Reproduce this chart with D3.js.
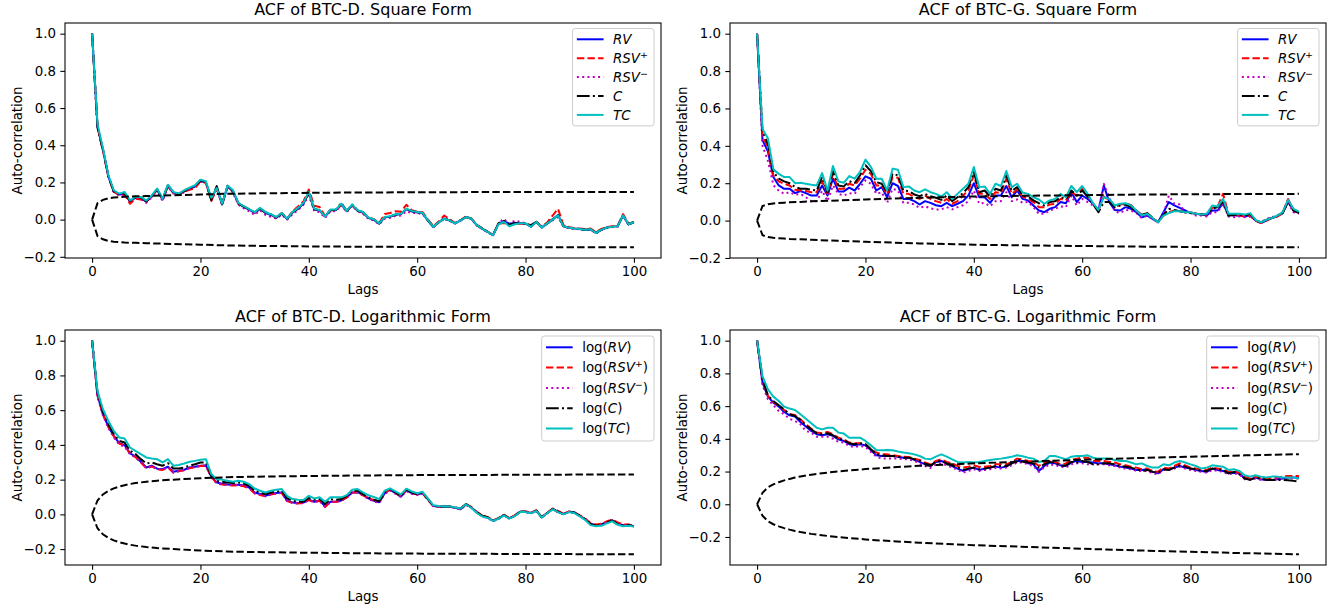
<!DOCTYPE html>
<html>
<head>
<meta charset="utf-8">
<title>ACF of BTC-D and BTC-G</title>
<script src="https://cdn.jsdelivr.net/npm/d3@7/dist/d3.min.js"></script>
<style>
  html, body { margin: 0; padding: 0; background: #fff; }
  svg { display: block; font-family: "DejaVu Sans", sans-serif; }
</style>
</head>
<body>
<svg id="chart" width="1333" height="611"></svg>
<script>

// lags on the x axis
var lags = d3.range(0, 101);
var xTicks = [0, 20, 40, 60, 80, 100];
var yTicks = [-0.2, 0.0, 0.2, 0.4, 0.6, 0.8, 1.0];

var titles = [
  "ACF of BTC-D. Square Form", "ACF of BTC-G. Square Form",
  "ACF of BTC-D. Logarithmic Form", "ACF of BTC-G. Logarithmic Form"
];

// ---- BTC-D, square form
var rv1 = [1.000,0.500,0.375,0.232,0.150,0.135,0.138,0.098,0.118,0.118,
  0.097,0.125,0.160,0.108,0.182,0.145,0.137,0.152,0.165,0.178,
  0.208,0.200,0.110,0.172,0.082,0.178,0.152,0.086,0.068,0.054,
  0.036,0.058,0.036,0.025,0.010,0.032,0.003,0.038,0.058,0.085,
  0.145,0.055,0.048,0.016,0.050,0.052,0.082,0.045,0.078,0.048,
  0.038,0.008,0.000,-0.022,0.012,0.016,0.026,0.030,0.056,0.044,
  0.040,0.034,-0.006,-0.040,-0.014,0.004,-0.005,-0.020,-0.004,0.015,
  0.004,-0.030,-0.048,-0.066,-0.084,-0.022,-0.008,-0.022,-0.018,-0.018,
  -0.022,-0.038,-0.012,-0.042,-0.020,0.002,0.025,-0.036,-0.044,-0.048,
  -0.050,-0.054,-0.053,-0.071,-0.055,-0.042,-0.038,-0.035,0.022,-0.026,
  -0.014];
var rsvp1 = [1.000,0.495,0.372,0.230,0.150,0.132,0.135,0.085,0.112,0.108,
  0.098,0.122,0.162,0.110,0.180,0.143,0.136,0.150,0.160,0.170,
  0.205,0.198,0.100,0.165,0.085,0.180,0.150,0.085,0.070,0.055,
  0.038,0.060,0.040,0.028,0.012,0.034,0.006,0.045,0.070,0.098,
  0.162,0.075,0.068,0.020,0.050,0.050,0.078,0.048,0.075,0.050,
  0.038,0.012,0.002,-0.018,0.030,0.036,0.045,0.042,0.080,0.050,
  0.042,0.040,0.000,-0.036,-0.008,0.022,0.002,-0.018,-0.002,0.016,
  0.006,-0.028,-0.046,-0.064,-0.082,-0.022,-0.018,-0.030,-0.022,-0.022,
  -0.022,-0.035,-0.010,-0.040,-0.015,0.022,0.058,-0.030,-0.040,-0.046,
  -0.048,-0.050,-0.048,-0.068,-0.050,-0.040,-0.036,-0.033,0.030,-0.022,
  -0.012];
var rsvm1 = [1.000,0.498,0.378,0.236,0.148,0.130,0.138,0.095,0.120,0.115,
  0.090,0.120,0.158,0.100,0.178,0.140,0.132,0.148,0.168,0.180,
  0.205,0.195,0.112,0.165,0.080,0.175,0.145,0.080,0.060,0.045,
  0.025,0.050,0.025,0.015,0.005,0.025,0.000,0.030,0.050,0.080,
  0.130,0.045,0.040,0.010,0.045,0.045,0.080,0.040,0.075,0.045,
  0.030,0.005,-0.005,-0.025,0.005,0.010,0.020,0.022,0.045,0.035,
  0.035,0.030,-0.005,-0.040,-0.015,0.012,-0.005,-0.022,-0.006,0.016,
  0.004,-0.032,-0.050,-0.068,-0.086,-0.020,0.005,-0.025,-0.005,-0.012,
  -0.020,-0.040,-0.014,-0.044,-0.022,-0.005,0.015,-0.038,-0.045,-0.050,
  -0.052,-0.056,-0.054,-0.074,-0.056,-0.045,-0.040,-0.037,0.020,-0.028,
  -0.015];
var c1 = [1.000,0.495,0.376,0.235,0.152,0.136,0.140,0.100,0.118,0.120,
  0.098,0.126,0.164,0.110,0.185,0.146,0.138,0.154,0.168,0.182,
  0.212,0.203,0.105,0.180,0.083,0.182,0.155,0.088,0.070,0.055,
  0.038,0.060,0.038,0.027,0.012,0.034,0.004,0.040,0.060,0.087,
  0.145,0.057,0.050,0.017,0.052,0.053,0.090,0.046,0.080,0.049,
  0.040,0.010,0.001,-0.021,0.013,0.017,0.027,0.031,0.058,0.046,
  0.040,0.035,-0.005,-0.039,-0.013,0.005,-0.004,-0.020,-0.004,0.014,
  0.005,-0.030,-0.048,-0.066,-0.084,-0.020,-0.007,-0.028,-0.020,-0.019,
  -0.021,-0.030,-0.012,-0.042,-0.020,0.001,0.024,-0.036,-0.043,-0.048,
  -0.050,-0.054,-0.052,-0.072,-0.054,-0.043,-0.039,-0.036,0.023,-0.025,
  -0.013];
var tc1 = [1.000,0.515,0.385,0.240,0.158,0.140,0.149,0.104,0.122,0.122,
  0.103,0.130,0.167,0.113,0.188,0.149,0.140,0.158,0.172,0.185,
  0.215,0.206,0.118,0.170,0.086,0.183,0.158,0.090,0.072,0.057,
  0.040,0.063,0.041,0.029,0.014,0.036,0.005,0.041,0.063,0.090,
  0.149,0.059,0.050,0.018,0.054,0.054,0.086,0.047,0.082,0.050,
  0.041,0.011,0.002,-0.020,0.014,0.018,0.029,0.032,0.059,0.047,
  0.041,0.036,-0.004,-0.039,-0.013,0.005,-0.004,-0.020,-0.004,0.014,
  0.005,-0.030,-0.048,-0.066,-0.084,-0.025,-0.013,-0.036,-0.025,-0.020,
  -0.020,-0.039,-0.013,-0.043,-0.020,0.000,0.023,-0.036,-0.043,-0.048,
  -0.050,-0.054,-0.052,-0.072,-0.054,-0.043,-0.039,-0.036,0.023,-0.025,
  -0.013];
var bandLags1 = [0,1,2,3,4,5,6,8,10,15,20,25,30,40,50,60,70,80,90,100];
var bandUp1 = [0,0.088,0.106,0.115,0.119,0.121,0.123,0.125,0.127,0.131,0.135,0.139,0.141,0.144,0.146,0.147,0.148,0.148,0.149,0.149];

// ---- BTC-G, square form
var rv2 = [1.000,0.430,0.370,0.233,0.188,0.170,0.170,0.147,0.158,0.147,
  0.134,0.134,0.188,0.134,0.224,0.156,0.156,0.176,0.161,0.197,
  0.237,0.224,0.161,0.179,0.125,0.200,0.185,0.116,0.116,0.104,
  0.086,0.104,0.095,0.082,0.077,0.095,0.077,0.090,0.104,0.134,
  0.200,0.125,0.125,0.095,0.134,0.134,0.185,0.125,0.161,0.116,
  0.108,0.081,0.054,0.045,0.063,0.072,0.099,0.093,0.152,0.099,
  0.134,0.116,0.090,0.054,0.188,0.099,0.057,0.054,0.072,0.063,
  0.045,0.018,0.027,0.009,-0.009,0.045,0.099,0.081,0.068,0.054,
  0.040,0.036,0.032,0.027,0.054,0.054,0.093,0.030,0.027,0.027,
  0.022,0.027,0.000,-0.013,0.000,0.014,0.022,0.040,0.108,0.054,
  0.045];
var rsvp2 = [1.000,0.457,0.390,0.240,0.210,0.197,0.188,0.165,0.161,0.158,
  0.152,0.152,0.211,0.143,0.250,0.170,0.170,0.197,0.188,0.224,
  0.272,0.250,0.188,0.188,0.140,0.233,0.229,0.143,0.143,0.125,
  0.116,0.134,0.116,0.104,0.095,0.116,0.090,0.104,0.134,0.161,
  0.242,0.143,0.143,0.116,0.152,0.147,0.224,0.143,0.165,0.128,
  0.116,0.099,0.072,0.072,0.086,0.090,0.116,0.108,0.152,0.134,
  0.170,0.134,0.090,0.054,0.129,0.108,0.072,0.086,0.090,0.084,
  0.054,0.032,0.036,0.014,-0.009,0.027,0.045,0.054,0.050,0.045,
  0.045,0.036,0.032,0.032,0.068,0.075,0.143,0.036,0.027,0.027,
  0.022,0.027,0.000,-0.013,0.000,0.014,0.022,0.040,0.116,0.054,
  0.040];
var rsvm2 = [1.000,0.400,0.320,0.190,0.160,0.143,0.152,0.138,0.143,0.125,
  0.104,0.104,0.160,0.104,0.188,0.143,0.134,0.147,0.143,0.179,
  0.215,0.197,0.143,0.152,0.095,0.170,0.161,0.095,0.095,0.086,
  0.068,0.077,0.065,0.060,0.060,0.072,0.060,0.072,0.082,0.104,
  0.161,0.090,0.095,0.077,0.104,0.104,0.152,0.104,0.113,0.095,
  0.100,0.072,0.036,0.036,0.054,0.063,0.075,0.072,0.134,0.081,
  0.116,0.099,0.081,0.054,0.197,0.125,0.050,0.040,0.057,0.054,
  0.040,0.014,0.027,0.009,-0.009,0.036,0.134,0.090,0.086,0.045,
  0.040,0.027,0.027,0.022,0.045,0.045,0.090,0.022,0.018,0.022,
  0.018,0.022,0.004,-0.009,0.009,0.018,0.027,0.045,0.093,0.045,
  0.036];
var c2 = [1.000,0.475,0.410,0.260,0.224,0.210,0.200,0.180,0.170,0.170,
  0.165,0.161,0.233,0.152,0.265,0.188,0.183,0.211,0.200,0.242,
  0.296,0.265,0.206,0.197,0.152,0.251,0.242,0.161,0.158,0.140,
  0.131,0.143,0.131,0.122,0.111,0.134,0.104,0.125,0.147,0.179,
  0.260,0.152,0.161,0.129,0.170,0.161,0.242,0.158,0.179,0.135,
  0.129,0.108,0.093,0.081,0.099,0.104,0.125,0.116,0.161,0.134,
  0.161,0.129,0.090,0.045,0.099,0.099,0.072,0.081,0.086,0.072,
  0.045,0.032,0.040,0.014,-0.009,0.030,0.063,0.057,0.050,0.045,
  0.040,0.036,0.032,0.036,0.063,0.072,0.099,0.027,0.030,0.032,
  0.027,0.036,0.000,-0.009,0.004,0.014,0.027,0.040,0.099,0.054,
  0.040];
var tc2 = [1.000,0.490,0.440,0.274,0.250,0.233,0.233,0.200,0.202,0.197,
  0.192,0.188,0.254,0.161,0.292,0.210,0.202,0.238,0.224,0.260,
  0.326,0.287,0.224,0.224,0.161,0.278,0.272,0.179,0.183,0.161,
  0.152,0.167,0.152,0.143,0.129,0.152,0.116,0.143,0.170,0.197,
  0.287,0.179,0.183,0.143,0.197,0.185,0.265,0.179,0.197,0.150,
  0.143,0.125,0.113,0.090,0.108,0.116,0.143,0.125,0.185,0.152,
  0.185,0.143,0.093,0.057,0.125,0.116,0.081,0.090,0.093,0.081,
  0.054,0.027,0.036,0.014,-0.009,0.027,0.040,0.050,0.050,0.045,
  0.045,0.036,0.032,0.036,0.081,0.075,0.116,0.036,0.036,0.036,
  0.032,0.040,0.004,-0.009,0.004,0.014,0.027,0.045,0.111,0.063,
  0.048];
var bandLags2 = [0,1,2,3,4,5,6,8,10,15,20,25,30,40,50,60,70,80,90,100];
var bandUp2 = [0,0.078,0.088,0.092,0.094,0.096,0.098,0.100,0.103,0.108,0.113,0.118,0.122,0.129,0.133,0.136,0.139,0.141,0.142,0.143];

// ---- BTC-D, logarithmic form
var rv3 = [1.000,0.686,0.577,0.506,0.452,0.410,0.398,0.352,0.333,0.303,
  0.270,0.280,0.263,0.260,0.274,0.245,0.251,0.257,0.270,0.274,
  0.280,0.282,0.218,0.184,0.176,0.172,0.170,0.170,0.166,0.155,
  0.126,0.117,0.107,0.117,0.123,0.126,0.079,0.069,0.065,0.068,
  0.084,0.073,0.080,0.046,0.073,0.073,0.080,0.098,0.126,0.128,
  0.112,0.092,0.078,0.070,0.122,0.142,0.122,0.102,0.138,0.122,
  0.115,0.122,0.086,0.048,0.044,0.044,0.044,0.038,0.030,0.057,
  0.040,0.012,-0.008,-0.018,-0.036,-0.024,-0.004,-0.023,-0.008,0.015,
  0.015,0.008,0.021,-0.017,0.008,0.031,0.015,0.002,0.015,0.011,
  -0.008,-0.027,-0.054,-0.063,-0.058,-0.044,-0.034,-0.052,-0.062,-0.060,
  -0.068];
var rsvp3 = [1.000,0.684,0.575,0.503,0.450,0.408,0.396,0.350,0.330,0.300,
  0.265,0.276,0.260,0.256,0.270,0.240,0.248,0.254,0.266,0.272,
  0.278,0.280,0.215,0.180,0.172,0.168,0.166,0.168,0.162,0.150,
  0.120,0.112,0.104,0.114,0.120,0.124,0.076,0.066,0.062,0.066,
  0.082,0.070,0.078,0.042,0.072,0.072,0.079,0.097,0.124,0.127,
  0.110,0.094,0.082,0.074,0.124,0.142,0.124,0.106,0.144,0.124,
  0.114,0.120,0.084,0.046,0.044,0.044,0.044,0.040,0.034,0.060,
  0.042,0.014,-0.006,-0.016,-0.034,-0.022,-0.002,-0.020,-0.006,0.017,
  0.017,0.010,0.024,-0.014,0.010,0.034,0.020,0.004,0.017,0.012,
  -0.006,-0.024,-0.050,-0.058,-0.054,-0.040,-0.030,-0.046,-0.058,-0.058,
  -0.066];
var rsvm3 = [1.000,0.680,0.570,0.498,0.444,0.402,0.390,0.346,0.328,0.300,
  0.268,0.278,0.262,0.258,0.272,0.243,0.249,0.255,0.268,0.273,
  0.279,0.281,0.214,0.178,0.172,0.170,0.168,0.169,0.164,0.153,
  0.124,0.115,0.104,0.115,0.121,0.124,0.076,0.066,0.062,0.066,
  0.082,0.071,0.078,0.044,0.071,0.071,0.078,0.096,0.124,0.126,
  0.108,0.088,0.074,0.066,0.118,0.138,0.118,0.100,0.134,0.118,
  0.112,0.120,0.084,0.046,0.042,0.042,0.042,0.036,0.028,0.054,
  0.038,0.010,-0.012,-0.022,-0.040,-0.026,-0.006,-0.025,-0.010,0.013,
  0.013,0.006,0.019,-0.019,0.006,0.029,0.012,0.000,0.013,0.009,
  -0.010,-0.029,-0.056,-0.064,-0.060,-0.046,-0.036,-0.054,-0.064,-0.062,
  -0.070];
var c3 = [1.000,0.700,0.590,0.519,0.462,0.423,0.414,0.366,0.347,0.318,
  0.293,0.299,0.289,0.280,0.295,0.264,0.264,0.270,0.280,0.289,
  0.299,0.299,0.222,0.193,0.188,0.184,0.180,0.184,0.178,0.165,
  0.136,0.126,0.117,0.126,0.130,0.136,0.092,0.079,0.073,0.073,
  0.094,0.084,0.088,0.060,0.088,0.084,0.088,0.107,0.136,0.136,
  0.117,0.098,0.085,0.076,0.126,0.146,0.126,0.107,0.142,0.126,
  0.117,0.126,0.088,0.050,0.046,0.046,0.046,0.040,0.034,0.059,
  0.040,0.011,-0.008,-0.017,-0.036,-0.023,-0.004,-0.023,-0.008,0.015,
  0.015,0.008,0.021,-0.017,0.008,0.031,0.015,0.002,0.015,0.011,
  -0.008,-0.027,-0.056,-0.065,-0.061,-0.046,-0.036,-0.056,-0.065,-0.061,
  -0.069];
var tc3 = [1.000,0.710,0.605,0.538,0.481,0.443,0.437,0.385,0.366,0.347,
  0.328,0.322,0.318,0.299,0.318,0.280,0.284,0.293,0.303,0.308,
  0.314,0.318,0.232,0.203,0.200,0.193,0.188,0.193,0.188,0.174,
  0.149,0.136,0.126,0.136,0.142,0.146,0.107,0.088,0.084,0.082,
  0.107,0.092,0.098,0.073,0.098,0.098,0.098,0.111,0.142,0.146,
  0.127,0.110,0.100,0.088,0.136,0.150,0.132,0.115,0.148,0.132,
  0.122,0.130,0.090,0.052,0.048,0.046,0.046,0.040,0.034,0.058,
  0.038,0.008,-0.012,-0.020,-0.038,-0.025,-0.006,-0.024,-0.010,0.013,
  0.013,0.006,0.020,-0.018,0.006,0.029,0.013,0.000,0.013,0.008,
  -0.012,-0.032,-0.062,-0.068,-0.066,-0.052,-0.040,-0.060,-0.068,-0.066,
  -0.070];
var bandLags3 = [0,1,2,3,4,5,6,7,8,10,12,15,20,25,30,40,50,60,70,80,90,100];
var bandUp3 = [0,0.080,0.115,0.135,0.150,0.160,0.168,0.175,0.180,0.188,0.194,0.200,0.208,0.214,0.217,0.221,0.224,0.226,0.227,0.228,0.229,0.230];

// ---- BTC-G, logarithmic form
var rv4 = [1.000,0.743,0.658,0.621,0.597,0.564,0.544,0.536,0.503,0.475,
  0.448,0.428,0.422,0.428,0.418,0.397,0.387,0.367,0.360,0.367,
  0.360,0.332,0.299,0.295,0.295,0.295,0.291,0.285,0.285,0.271,
  0.259,0.244,0.234,0.259,0.265,0.250,0.234,0.218,0.204,0.214,
  0.224,0.210,0.218,0.224,0.230,0.224,0.230,0.250,0.265,0.265,
  0.250,0.244,0.204,0.234,0.255,0.250,0.238,0.234,0.255,0.265,
  0.259,0.259,0.255,0.250,0.250,0.244,0.238,0.230,0.224,0.218,
  0.210,0.210,0.214,0.198,0.189,0.214,0.214,0.224,0.234,0.224,
  0.218,0.210,0.204,0.198,0.218,0.210,0.204,0.189,0.193,0.189,
  0.157,0.153,0.163,0.153,0.149,0.149,0.153,0.157,0.163,0.163,
  0.163];
var rsvp4 = [1.000,0.755,0.662,0.625,0.601,0.576,0.550,0.546,0.519,0.489,
  0.462,0.438,0.434,0.442,0.428,0.407,0.397,0.377,0.373,0.373,
  0.367,0.336,0.316,0.305,0.305,0.301,0.295,0.291,0.289,0.279,
  0.271,0.255,0.244,0.265,0.275,0.259,0.250,0.234,0.224,0.230,
  0.238,0.228,0.230,0.234,0.244,0.244,0.244,0.259,0.279,0.275,
  0.265,0.259,0.234,0.255,0.265,0.259,0.244,0.250,0.271,0.279,
  0.285,0.285,0.265,0.265,0.265,0.259,0.255,0.244,0.238,0.230,
  0.224,0.214,0.218,0.204,0.198,0.224,0.218,0.234,0.250,0.238,
  0.224,0.218,0.214,0.210,0.224,0.218,0.214,0.198,0.204,0.193,
  0.169,0.157,0.169,0.157,0.157,0.157,0.163,0.169,0.173,0.173,
  0.173];
var rsvm4 = [1.000,0.727,0.642,0.605,0.570,0.550,0.523,0.509,0.489,0.448,
  0.438,0.413,0.413,0.413,0.401,0.381,0.377,0.356,0.350,0.356,
  0.350,0.320,0.291,0.279,0.279,0.279,0.279,0.275,0.275,0.265,
  0.250,0.234,0.222,0.244,0.250,0.238,0.224,0.210,0.193,0.204,
  0.214,0.204,0.210,0.214,0.222,0.218,0.224,0.238,0.255,0.255,
  0.244,0.234,0.198,0.224,0.244,0.238,0.230,0.224,0.244,0.250,
  0.250,0.244,0.244,0.244,0.244,0.238,0.234,0.224,0.218,0.214,
  0.204,0.204,0.204,0.189,0.183,0.210,0.210,0.218,0.230,0.218,
  0.210,0.204,0.198,0.193,0.210,0.204,0.198,0.183,0.189,0.183,
  0.153,0.149,0.157,0.149,0.149,0.149,0.153,0.157,0.157,0.157,
  0.157];
var c4 = [1.000,0.764,0.666,0.631,0.605,0.580,0.550,0.540,0.515,0.483,
  0.458,0.434,0.428,0.434,0.422,0.401,0.393,0.373,0.367,0.373,
  0.367,0.336,0.305,0.299,0.295,0.295,0.291,0.285,0.285,0.275,
  0.265,0.248,0.238,0.259,0.265,0.250,0.238,0.224,0.210,0.218,
  0.224,0.214,0.218,0.224,0.234,0.234,0.234,0.250,0.275,0.265,
  0.255,0.250,0.224,0.244,0.259,0.255,0.234,0.238,0.259,0.255,
  0.265,0.259,0.244,0.244,0.250,0.250,0.244,0.234,0.230,0.224,
  0.214,0.204,0.210,0.198,0.193,0.214,0.210,0.224,0.238,0.230,
  0.218,0.214,0.204,0.204,0.218,0.214,0.210,0.189,0.198,0.183,
  0.157,0.149,0.163,0.157,0.149,0.149,0.149,0.149,0.147,0.143,
  0.138];
var tc4 = [1.000,0.784,0.703,0.658,0.631,0.597,0.585,0.576,0.550,0.523,
  0.495,0.468,0.458,0.468,0.468,0.438,0.432,0.407,0.407,0.407,
  0.387,0.360,0.332,0.330,0.332,0.330,0.322,0.316,0.312,0.305,
  0.295,0.279,0.275,0.291,0.305,0.291,0.275,0.259,0.255,0.259,
  0.255,0.259,0.265,0.271,0.275,0.279,0.285,0.291,0.300,0.293,
  0.285,0.279,0.259,0.265,0.295,0.295,0.285,0.275,0.291,0.295,
  0.295,0.299,0.285,0.279,0.279,0.279,0.271,0.265,0.265,0.255,
  0.244,0.250,0.234,0.224,0.224,0.244,0.238,0.255,0.265,0.255,
  0.244,0.234,0.218,0.224,0.238,0.234,0.230,0.210,0.214,0.204,
  0.177,0.169,0.177,0.169,0.163,0.169,0.169,0.163,0.163,0.163,
  0.157];
var bandLags4 = [0,1,2,3,4,5,6,7,8,10,12,15,20,25,30,40,50,60,70,80,90,100];
var bandUp4 = [0,0.070,0.104,0.122,0.135,0.146,0.155,0.163,0.170,0.181,0.190,0.201,0.215,0.226,0.235,0.250,0.261,0.272,0.282,0.291,0.299,0.306];

// ---- styles (matplotlib b, r--, m:, k-., c ; lw 1.5)
var lineStyles = [
  { name: "RV",  sup: null, color: "#0000ff", dash: null },
  { name: "RSV", sup: "+",  color: "#ff0000", dash: "7.4,3.2" },
  { name: "RSV", sup: "\u2212", color: "#bf00bf", dash: "2,3.3" },
  { name: "C",   sup: null, color: "#000000", dash: "12.8,3.2,2,3.2" },
  { name: "TC",  sup: null, color: "#00bfbf", dash: null }
];

var panels = [
  { title: titles[0], left: 65,  top: 23,  log: false, series: [rv1, rsvp1, rsvm1, c1, tc1], bandLags: bandLags1, band: bandUp1 },
  { title: titles[1], left: 730, top: 23,  log: false, series: [rv2, rsvp2, rsvm2, c2, tc2], bandLags: bandLags2, band: bandUp2 },
  { title: titles[2], left: 65,  top: 330, log: true,  series: [rv3, rsvp3, rsvm3, c3, tc3], bandLags: bandLags3, band: bandUp3 },
  { title: titles[3], left: 730, top: 330, log: true,  series: [rv4, rsvp4, rsvm4, c4, tc4], bandLags: bandLags4, band: bandUp4 }
];

var W = 596, H = 235;
var FS = 13.4;          // 10pt tick / label / legend text
var svg = d3.select("#chart");
var fmt = function (v) { return d3.format(".1f")(v).replace("-", "\u2212"); };

panels.forEach(function (p, i) {
  var g = svg.append("g").attr("transform", "translate(" + p.left + "," + p.top + ")");

  // autoscale like matplotlib: 5% margins
  var lo = d3.min([d3.min(p.series, function (s) { return d3.min(s); }), -d3.max(p.band)]);
  var hi = d3.max([d3.max(p.series, function (s) { return d3.max(s); }), d3.max(p.band)]);
  var m = (hi - lo) * 0.05;

  var x = d3.scaleLinear().domain([-5, 105]).range([0, W]);
  var y = d3.scaleLinear().domain([lo - m, hi + m]).range([H, 0]);

  g.append("clipPath").attr("id", "clip" + i)
    .append("rect").attr("width", W).attr("height", H);

  var plot = g.append("g").attr("clip-path", "url(#clip" + i + ")");

  var line = d3.line().x(function (d) { return x(d[0]); }).y(function (d) { return y(d[1]); });

  p.series.forEach(function (s, k) {
    var st = lineStyles[k];
    plot.append("path")
      .datum(lags.map(function (l) { return [l, s[l]]; }))
      .attr("d", line)
      .attr("fill", "none")
      .attr("stroke", st.color)
      .attr("stroke-width", 2)
      .attr("stroke-linejoin", "round")
      .attr("stroke-dasharray", st.dash);
  });

  // confidence bands
  [1, -1].forEach(function (sign) {
    plot.append("path")
      .datum(p.bandLags.map(function (l, j) { return [l, sign * p.band[j]]; }))
      .attr("d", line)
      .attr("fill", "none")
      .attr("stroke", "#000")
      .attr("stroke-width", 2)
      .attr("stroke-dasharray", "7.4,3.2");
  });

  // axes
  var xa = g.append("g").attr("transform", "translate(0," + H + ")")
    .call(d3.axisBottom(x).tickValues(xTicks).tickSize(4.7).tickPadding(4.2).tickFormat(d3.format("d")));
  var ya = g.append("g")
    .call(d3.axisLeft(y).tickValues(yTicks).tickSize(4.7).tickPadding(4.2).tickFormat(fmt));
  [xa, ya].forEach(function (a) {
    a.select(".domain").remove();
    a.selectAll("line").attr("stroke", "#000").attr("stroke-width", 1.07);
    a.selectAll("text").attr("fill", "#000").style("font-size", FS + "px")
      .style("font-family", "DejaVu Sans");
  });

  g.append("rect").attr("width", W).attr("height", H)
    .attr("fill", "none").attr("stroke", "#000").attr("stroke-width", 1.07);

  // title and labels
  g.append("text").attr("x", W / 2).attr("y", -8)
    .attr("text-anchor", "middle").style("font-size", "16px").text(p.title);
  g.append("text").attr("x", W / 2).attr("y", H + 36)
    .attr("text-anchor", "middle").style("font-size", FS + "px").text("Lags");
  g.append("text").attr("transform", "translate(-43," + (H / 2) + ") rotate(-90)")
    .attr("text-anchor", "middle").style("font-size", FS + "px").text("Auto-correlation");

  // legend
  var lg = g.append("g");
  var box = lg.append("rect");
  var first = p.log ? 17.3 : 16.3, step = p.log ? 20.3 : 18.9;
  var maxW = 0;
  lineStyles.forEach(function (st, k) {
    var cy = first + step * k;
    var row = lg.append("g").attr("transform", "translate(0," + cy + ")");
    row.append("line").attr("x1", 4.3).attr("x2", 31).attr("y1", 0).attr("y2", 0)
      .attr("stroke", st.color).attr("stroke-width", 2).attr("stroke-dasharray", st.dash);
    var t = row.append("text").attr("x", 40.5).attr("y", 4.7).style("font-size", FS + "px");
    if (p.log) t.append("tspan").text("log(");
    t.append("tspan").style("font-style", "italic").text(st.name);
    if (st.sup) {
      t.append("tspan").attr("dy", -5).style("font-size", "9.5px").text(st.sup);
      t.append("tspan").attr("dy", 5).text(p.log ? ")" : "");
    } else if (p.log) {
      t.append("tspan").text(")");
    }
    maxW = Math.max(maxW, t.node().getComputedTextLength());
  });
  var lw = 40.5 + maxW + 6;
  var lh = (first + step * 4) + (p.log ? 12.5 : 11);
  box.attr("x", 0).attr("y", p.log ? 6 : 5.5).attr("width", lw).attr("height", lh - (p.log ? 6 : 5.5))
    .attr("rx", 2.7).attr("fill", "#fff").attr("fill-opacity", 0.8)
    .attr("stroke", "#cccccc").attr("stroke-width", 1);
  lg.attr("transform", "translate(" + (W - 7 - lw) + ",0)");
});

</script>
</body>
</html>
